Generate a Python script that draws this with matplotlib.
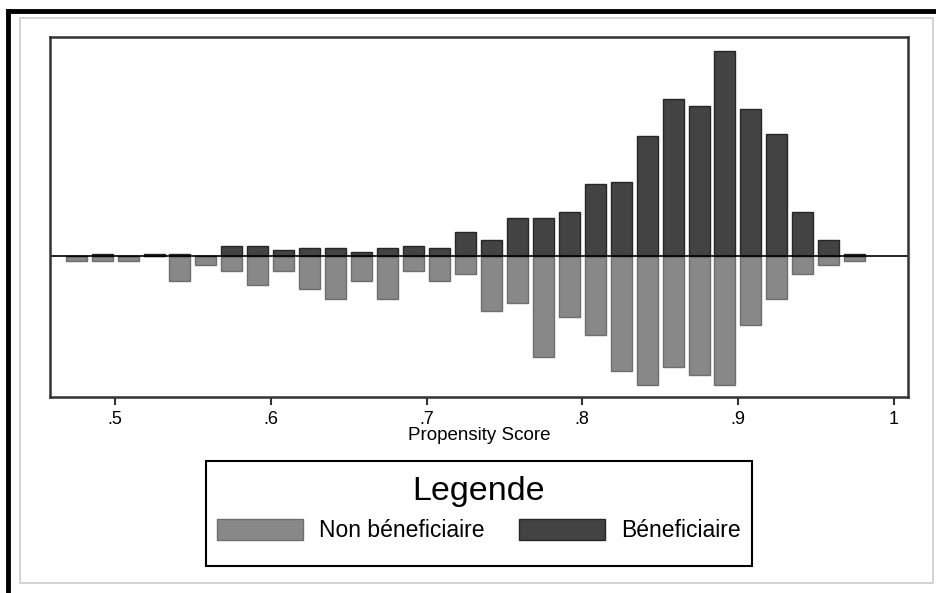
import numpy as np
import matplotlib.pyplot as plt
from matplotlib.patches import Patch, Rectangle
from matplotlib.lines import Line2D

plt.rcParams['font.family'] = ['Liberation Sans', 'DejaVu Sans']

# ======================
# Data (arbitrary density units)
# ======================
BIN_START = 0.475
BIN_WIDTH = 1 / 60
beneficiaire = [0, 2.3, 0, 2.3, 2.3, 0, 10.3, 10.3, 5.7, 8.3, 8.3, 4, 8.3, 10.3, 8.3,
                24.3, 16, 38.3, 38.3, 44.3, 72.3, 74.3, 120.3, 156.7, 150.3, 204.7,
                146.7, 122.3, 44.3, 16, 2.3]
non_beneficiaire = [5, 5, 5, 0, 25, 8.7, 15.3, 28.7, 15, 33, 43, 25, 43, 15, 25,
                    18.3, 55, 46.7, 101, 60.7, 79, 115, 129, 110.7, 119, 129,
                    69, 42.7, 18.3, 8.7, 4.7]
tick_vals = [0.5, 0.6, 0.7, 0.8, 0.9, 1.0]
tick_labels = ['.5', '.6', '.7', '.8', '.9', '1']

centers = BIN_START + BIN_WIDTH * np.arange(len(beneficiaire))

LIGHT = '#888888'
DARK = '#434343'

# ======================
# Plot
# ======================
fig = plt.figure(figsize=(9.37, 5.93), dpi=100)
W, H = 937, 593

# page-like frame (black border from the screenshot + light grey graph frame)
fig.add_artist(Line2D([8 / W, 8 / W], [0, 1 - 11 / H], color='black', lw=3.5,
                      transform=fig.transFigure))
fig.add_artist(Line2D([8 / W, 1], [1 - 11 / H, 1 - 11 / H], color='black', lw=3.5,
                      transform=fig.transFigure))
fig.add_artist(Rectangle((20 / W, 1 - 583 / H), 913 / W, 565 / H, fill=False,
                         ec='#cccccc', lw=1.2, transform=fig.transFigure))

ax = fig.add_axes([50 / W, 1 - 397 / H, 858 / W, 360 / H])
bw = BIN_WIDTH * 0.81
ax.bar(centers, -np.array(non_beneficiaire), width=bw, color=LIGHT,
       edgecolor='#6e6e6e', linewidth=1.0, label='Non béneficiaire')
ax.bar(centers, beneficiaire, width=bw, color=DARK,
       edgecolor='#262626', linewidth=1.0, label='Béneficiaire')
ax.axhline(0, color='black', lw=1.2)

ax.set_xlim(0.4582, 1.0092)
ax.set_ylim(-141, 219)
ax.set_yticks([])
ax.set_xticks(tick_vals)
ax.set_xticklabels(tick_labels, fontsize=13)
ax.tick_params(axis='x', direction='out', length=6, width=1.5, color='#333333', pad=4)
for s in ax.spines.values():
    s.set_color('#333333')
    s.set_linewidth(1.8)
ax.set_xlabel('Propensity Score', fontsize=13.5, labelpad=-1)

# legend box drawn by hand (Stata leaves extra room under the keys)
fig.add_artist(Rectangle((206 / W, 1 - 566 / H), 546 / W, 105 / H, fill=False,
                         ec='black', lw=1.5, transform=fig.transFigure))
handles = [Patch(facecolor=LIGHT, edgecolor='#6e6e6e', label='Non béneficiaire'),
           Patch(facecolor=DARK, edgecolor='#262626', label='Béneficiaire')]
leg = fig.legend(handles=handles, loc='upper center', bbox_to_anchor=(479 / W, 1 - 458 / H),
                 ncol=2, title='Legende', fontsize=16.5, title_fontsize=24.5,
                 handlelength=3.75, handleheight=1.03, columnspacing=1.5, handletextpad=0.7,
                 frameon=False, borderpad=0.3)

fig.savefig('out.png', dpi=100)
